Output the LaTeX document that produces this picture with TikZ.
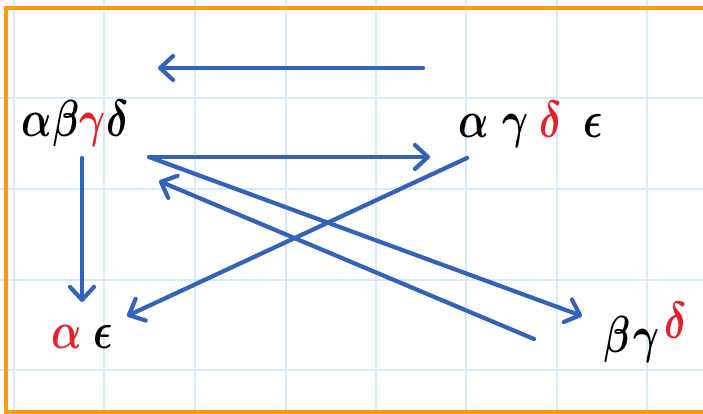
\documentclass[tikz,border=0pt]{standalone}
\usepackage{unicode-math}
\usetikzlibrary{arrows.meta}
\definecolor{gridblue}{RGB}{214,234,248}
\definecolor{frameorange}{RGB}{255,155,10}
\definecolor{penblue}{RGB}{50,98,185}
\definecolor{penred}{RGB}{232,30,40}
\newcommand{\hw}[1]{\scalebox{1}[1.3]{$\symbfit{#1}$}}
\tikzset{
  conn/.style={draw=penblue,line width=4.2pt,line cap=round,line join=round,
    -{Straight Barb[length=13pt,width=24pt,line cap=round,line join=round]}},
  lbl/.style={inner sep=0pt,anchor=base west,font=\fontsize{40}{44}\selectfont},
}
\begin{document}
\begin{tikzpicture}[x=1pt,y=-1pt]
\useasboundingbox (0,0) rectangle (703,414);
\fill[white] (0,0) rectangle (703,414);
% grid
\foreach \x in {14,104,195,286,376,466,557,647}
  \draw[gridblue,line width=1.2pt] (\x,0) -- (\x,414);
\foreach \y in {98,189,280,370}
  \draw[gridblue,line width=1.2pt] (0,\y) -- (703,\y);
% frame
\draw[frameorange,line width=4pt] (703,8) -- (6,8) -- (6,412) -- (703,412);
% labels
\node[lbl] (abgd) at (21,137) {\hw{\alpha}\hspace{1pt}\hw{\beta}\textcolor{penred}{\hw{\gamma}}\hspace{1pt}\hw{\delta}};
\node[lbl] (agde) at (458,138) {\hw{\alpha}\hspace{14pt}\hw{\gamma}\hspace{11pt}\textcolor{penred}{\hw{\delta}}\hspace{22pt}\hw{\epsilon}};
\node[lbl] (ae) at (51,348) {\textcolor{penred}{\hw{\alpha}}\hspace{12pt}\hw{\epsilon}};
\node[lbl] (bgd) at (603,352) {\hw{\beta}\hspace{4pt}\hw{\gamma}\hspace{5pt}\raisebox{14pt}{\textcolor{penred}{\hw{\delta}}}};
% arrow end points
\coordinate (t1) at (423,68);
\coordinate (t2) at (158,68);
\coordinate (h1) at (149,157);
\coordinate (h2) at (430,157);
\coordinate (v1) at (82,158);
\coordinate (v2) at (82,302);
\coordinate (d1) at (467,158);
\coordinate (d2) at (127,316);
\coordinate (e1) at (149,157);
\coordinate (e2) at (582,316);
\coordinate (f1) at (534,339);
\coordinate (f2) at (159,181);
% arrows
\draw[conn] (t1) -- (t2);
\draw[conn] (h1) -- (h2);
\draw[conn] (v1) -- (v2);
\draw[conn] (d1) -- (d2);
\draw[conn] (e1) -- (e2);
\draw[conn] (f1) -- (f2);
\end{tikzpicture}
\end{document}
